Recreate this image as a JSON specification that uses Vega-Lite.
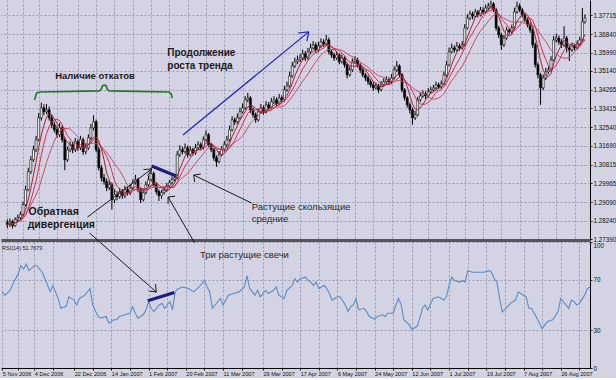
{
"$schema":"https://vega.github.io/schema/vega-lite/v6.json",
"padding":0,
"background":"#d3d3e3",
"spacing":2,
"bounds":"flush",
"config":{"font":"Liberation Sans","view":{"stroke":null},"axis":{"gridColor":"#9a9ab2","gridDash":[2,2],"gridWidth":1,"labelColor":"#111111","tickColor":"#111111","domainColor":"#111111","labelFont":"Liberation Sans","labelOverlap":false,"labelSeparation":0,"tickCount":100}},
"datasets":{
"bars":[
{"i":0,"o":1.2815,"h":1.2830,"l":1.2790,"c":1.2806},
{"i":1,"o":1.2806,"h":1.2834,"l":1.2795,"c":1.2820},
{"i":2,"o":1.2820,"h":1.2828,"l":1.2788,"c":1.2801},
{"i":3,"o":1.2801,"h":1.2840,"l":1.2796,"c":1.2829},
{"i":4,"o":1.2829,"h":1.2852,"l":1.2820,"c":1.2838},
{"i":5,"o":1.2838,"h":1.2866,"l":1.2830,"c":1.2852},
{"i":6,"o":1.2852,"h":1.2912,"l":1.2845,"c":1.2898},
{"i":7,"o":1.2898,"h":1.2985,"l":1.2890,"c":1.2967},
{"i":8,"o":1.2967,"h":1.3068,"l":1.2960,"c":1.3050},
{"i":9,"o":1.3050,"h":1.3122,"l":1.3040,"c":1.3105},
{"i":10,"o":1.3105,"h":1.3170,"l":1.3095,"c":1.3151},
{"i":11,"o":1.3151,"h":1.3215,"l":1.3140,"c":1.3197},
{"i":12,"o":1.3197,"h":1.3320,"l":1.3190,"c":1.3298},
{"i":13,"o":1.3298,"h":1.3368,"l":1.3285,"c":1.3344},
{"i":14,"o":1.3344,"h":1.3360,"l":1.3310,"c":1.3326},
{"i":15,"o":1.3326,"h":1.3362,"l":1.3315,"c":1.3335},
{"i":16,"o":1.3335,"h":1.3350,"l":1.3285,"c":1.3298},
{"i":17,"o":1.3298,"h":1.3310,"l":1.3250,"c":1.3266},
{"i":18,"o":1.3266,"h":1.3280,"l":1.3230,"c":1.3243},
{"i":19,"o":1.3243,"h":1.3262,"l":1.3205,"c":1.3220},
{"i":20,"o":1.3220,"h":1.3275,"l":1.3210,"c":1.3252},
{"i":21,"o":1.3252,"h":1.3265,"l":1.3185,"c":1.3197},
{"i":22,"o":1.3197,"h":1.3210,"l":1.3057,"c":1.3105},
{"i":23,"o":1.3105,"h":1.3165,"l":1.3095,"c":1.3151},
{"i":24,"o":1.3151,"h":1.3190,"l":1.3140,"c":1.3174},
{"i":25,"o":1.3174,"h":1.3185,"l":1.3135,"c":1.3151},
{"i":26,"o":1.3151,"h":1.3205,"l":1.3140,"c":1.3188},
{"i":27,"o":1.3188,"h":1.3200,"l":1.3145,"c":1.3160},
{"i":28,"o":1.3160,"h":1.3215,"l":1.3150,"c":1.3197},
{"i":29,"o":1.3197,"h":1.3208,"l":1.3128,"c":1.3142},
{"i":30,"o":1.3142,"h":1.3180,"l":1.3130,"c":1.3160},
{"i":31,"o":1.3160,"h":1.3222,"l":1.3150,"c":1.3206},
{"i":32,"o":1.3206,"h":1.3270,"l":1.3195,"c":1.3252},
{"i":33,"o":1.3252,"h":1.3310,"l":1.3240,"c":1.3280},
{"i":34,"o":1.3280,"h":1.3290,"l":1.3140,"c":1.3151},
{"i":35,"o":1.3151,"h":1.3165,"l":1.3055,"c":1.3068},
{"i":36,"o":1.3068,"h":1.3080,"l":1.3005,"c":1.3022},
{"i":37,"o":1.3022,"h":1.3040,"l":1.2990,"c":1.3004},
{"i":38,"o":1.3004,"h":1.3018,"l":1.2960,"c":1.2976},
{"i":39,"o":1.2976,"h":1.3010,"l":1.2965,"c":1.2990},
{"i":40,"o":1.2990,"h":1.3000,"l":1.2875,"c":1.2921},
{"i":41,"o":1.2921,"h":1.2965,"l":1.2905,"c":1.2944},
{"i":42,"o":1.2944,"h":1.2958,"l":1.2918,"c":1.2935},
{"i":43,"o":1.2935,"h":1.2975,"l":1.2925,"c":1.2958},
{"i":44,"o":1.2958,"h":1.2970,"l":1.2925,"c":1.2939},
{"i":45,"o":1.2939,"h":1.2985,"l":1.2928,"c":1.2967},
{"i":46,"o":1.2967,"h":1.2980,"l":1.2940,"c":1.2953},
{"i":47,"o":1.2953,"h":1.2992,"l":1.2942,"c":1.2976},
{"i":48,"o":1.2976,"h":1.3015,"l":1.2965,"c":1.2999},
{"i":49,"o":1.2999,"h":1.3035,"l":1.2990,"c":1.3013},
{"i":50,"o":1.3013,"h":1.3022,"l":1.2955,"c":1.2967},
{"i":51,"o":1.2967,"h":1.2975,"l":1.2905,"c":1.2921},
{"i":52,"o":1.2921,"h":1.2968,"l":1.2912,"c":1.2953},
{"i":53,"o":1.2953,"h":1.3005,"l":1.2945,"c":1.2990},
{"i":54,"o":1.2990,"h":1.3030,"l":1.2980,"c":1.3013},
{"i":55,"o":1.3013,"h":1.3068,"l":1.3005,"c":1.3041},
{"i":56,"o":1.3041,"h":1.3050,"l":1.2980,"c":1.2990},
{"i":57,"o":1.2990,"h":1.3000,"l":1.2945,"c":1.2958},
{"i":58,"o":1.2958,"h":1.2968,"l":1.2915,"c":1.2939},
{"i":59,"o":1.2939,"h":1.2965,"l":1.2925,"c":1.2953},
{"i":60,"o":1.2953,"h":1.2980,"l":1.2945,"c":1.2967},
{"i":61,"o":1.2967,"h":1.2998,"l":1.2958,"c":1.2985},
{"i":62,"o":1.2985,"h":1.3012,"l":1.2975,"c":1.2999},
{"i":63,"o":1.2999,"h":1.3028,"l":1.2990,"c":1.3013},
{"i":64,"o":1.3013,"h":1.3040,"l":1.3005,"c":1.3022},
{"i":65,"o":1.3022,"h":1.3145,"l":1.3015,"c":1.3128},
{"i":66,"o":1.3128,"h":1.3172,"l":1.3118,"c":1.3151},
{"i":67,"o":1.3151,"h":1.3165,"l":1.3130,"c":1.3142},
{"i":68,"o":1.3142,"h":1.3180,"l":1.3132,"c":1.3160},
{"i":69,"o":1.3160,"h":1.3170,"l":1.3115,"c":1.3128},
{"i":70,"o":1.3128,"h":1.3168,"l":1.3120,"c":1.3151},
{"i":71,"o":1.3151,"h":1.3160,"l":1.3125,"c":1.3137},
{"i":72,"o":1.3137,"h":1.3178,"l":1.3128,"c":1.3160},
{"i":73,"o":1.3160,"h":1.3190,"l":1.3150,"c":1.3174},
{"i":74,"o":1.3174,"h":1.3185,"l":1.3148,"c":1.3160},
{"i":75,"o":1.3160,"h":1.3212,"l":1.3152,"c":1.3197},
{"i":76,"o":1.3197,"h":1.3240,"l":1.3188,"c":1.3220},
{"i":77,"o":1.3220,"h":1.3228,"l":1.3165,"c":1.3174},
{"i":78,"o":1.3174,"h":1.3182,"l":1.3140,"c":1.3151},
{"i":79,"o":1.3151,"h":1.3160,"l":1.3100,"c":1.3114},
{"i":80,"o":1.3114,"h":1.3125,"l":1.3072,"c":1.3096},
{"i":81,"o":1.3096,"h":1.3145,"l":1.3088,"c":1.3128},
{"i":82,"o":1.3128,"h":1.3168,"l":1.3120,"c":1.3151},
{"i":83,"o":1.3151,"h":1.3190,"l":1.3142,"c":1.3174},
{"i":84,"o":1.3174,"h":1.3215,"l":1.3165,"c":1.3197},
{"i":85,"o":1.3197,"h":1.3262,"l":1.3190,"c":1.3243},
{"i":86,"o":1.3243,"h":1.3305,"l":1.3235,"c":1.3289},
{"i":87,"o":1.3289,"h":1.3300,"l":1.3265,"c":1.3280},
{"i":88,"o":1.3280,"h":1.3318,"l":1.3270,"c":1.3298},
{"i":89,"o":1.3298,"h":1.3345,"l":1.3290,"c":1.3326},
{"i":90,"o":1.3326,"h":1.3365,"l":1.3318,"c":1.3344},
{"i":91,"o":1.3344,"h":1.3398,"l":1.3335,"c":1.3381},
{"i":92,"o":1.3381,"h":1.3413,"l":1.3370,"c":1.3390},
{"i":93,"o":1.3390,"h":1.3398,"l":1.3320,"c":1.3335},
{"i":94,"o":1.3335,"h":1.3345,"l":1.3298,"c":1.3312},
{"i":95,"o":1.3312,"h":1.3322,"l":1.3275,"c":1.3289},
{"i":96,"o":1.3289,"h":1.3340,"l":1.3280,"c":1.3326},
{"i":97,"o":1.3326,"h":1.3362,"l":1.3318,"c":1.3344},
{"i":98,"o":1.3344,"h":1.3355,"l":1.3312,"c":1.3326},
{"i":99,"o":1.3326,"h":1.3375,"l":1.3318,"c":1.3358},
{"i":100,"o":1.3358,"h":1.3370,"l":1.3332,"c":1.3344},
{"i":101,"o":1.3344,"h":1.3390,"l":1.3336,"c":1.3372},
{"i":102,"o":1.3372,"h":1.3398,"l":1.3362,"c":1.3381},
{"i":103,"o":1.3381,"h":1.3392,"l":1.3350,"c":1.3363},
{"i":104,"o":1.3363,"h":1.3408,"l":1.3355,"c":1.3390},
{"i":105,"o":1.3390,"h":1.3402,"l":1.3368,"c":1.3381},
{"i":106,"o":1.3381,"h":1.3445,"l":1.3372,"c":1.3427},
{"i":107,"o":1.3427,"h":1.3465,"l":1.3418,"c":1.3445},
{"i":108,"o":1.3445,"h":1.3510,"l":1.3438,"c":1.3491},
{"i":109,"o":1.3491,"h":1.3555,"l":1.3482,"c":1.3537},
{"i":110,"o":1.3537,"h":1.3575,"l":1.3528,"c":1.3556},
{"i":111,"o":1.3556,"h":1.3585,"l":1.3545,"c":1.3565},
{"i":112,"o":1.3565,"h":1.3592,"l":1.3555,"c":1.3574},
{"i":113,"o":1.3574,"h":1.3612,"l":1.3565,"c":1.3593},
{"i":114,"o":1.3593,"h":1.3605,"l":1.3560,"c":1.3574},
{"i":115,"o":1.3574,"h":1.3620,"l":1.3565,"c":1.3602},
{"i":116,"o":1.3602,"h":1.3640,"l":1.3592,"c":1.3620},
{"i":117,"o":1.3620,"h":1.3652,"l":1.3612,"c":1.3634},
{"i":118,"o":1.3634,"h":1.3645,"l":1.3598,"c":1.3611},
{"i":119,"o":1.3611,"h":1.3648,"l":1.3600,"c":1.3629},
{"i":120,"o":1.3629,"h":1.3665,"l":1.3620,"c":1.3648},
{"i":121,"o":1.3648,"h":1.3660,"l":1.3625,"c":1.3639},
{"i":122,"o":1.3639,"h":1.3680,"l":1.3630,"c":1.3657},
{"i":123,"o":1.3657,"h":1.3668,"l":1.3590,"c":1.3602},
{"i":124,"o":1.3602,"h":1.3612,"l":1.3575,"c":1.3588},
{"i":125,"o":1.3588,"h":1.3598,"l":1.3560,"c":1.3574},
{"i":126,"o":1.3574,"h":1.3605,"l":1.3565,"c":1.3588},
{"i":127,"o":1.3588,"h":1.3596,"l":1.3545,"c":1.3556},
{"i":128,"o":1.3556,"h":1.3590,"l":1.3548,"c":1.3574},
{"i":129,"o":1.3574,"h":1.3582,"l":1.3530,"c":1.3542},
{"i":130,"o":1.3542,"h":1.3550,"l":1.3480,"c":1.3496},
{"i":131,"o":1.3496,"h":1.3535,"l":1.3488,"c":1.3519},
{"i":132,"o":1.3519,"h":1.3572,"l":1.3510,"c":1.3556},
{"i":133,"o":1.3556,"h":1.3582,"l":1.3548,"c":1.3565},
{"i":134,"o":1.3565,"h":1.3575,"l":1.3530,"c":1.3542},
{"i":135,"o":1.3542,"h":1.3550,"l":1.3505,"c":1.3519},
{"i":136,"o":1.3519,"h":1.3528,"l":1.3485,"c":1.3496},
{"i":137,"o":1.3496,"h":1.3505,"l":1.3468,"c":1.3482},
{"i":138,"o":1.3482,"h":1.3492,"l":1.3450,"c":1.3464},
{"i":139,"o":1.3464,"h":1.3475,"l":1.3438,"c":1.3450},
{"i":140,"o":1.3450,"h":1.3462,"l":1.3422,"c":1.3436},
{"i":141,"o":1.3436,"h":1.3460,"l":1.3428,"c":1.3445},
{"i":142,"o":1.3445,"h":1.3455,"l":1.3412,"c":1.3427},
{"i":143,"o":1.3427,"h":1.3468,"l":1.3420,"c":1.3450},
{"i":144,"o":1.3450,"h":1.3480,"l":1.3442,"c":1.3464},
{"i":145,"o":1.3464,"h":1.3490,"l":1.3455,"c":1.3473},
{"i":146,"o":1.3473,"h":1.3485,"l":1.3450,"c":1.3464},
{"i":147,"o":1.3464,"h":1.3500,"l":1.3455,"c":1.3482},
{"i":148,"o":1.3482,"h":1.3535,"l":1.3475,"c":1.3519},
{"i":149,"o":1.3519,"h":1.3560,"l":1.3510,"c":1.3537},
{"i":150,"o":1.3537,"h":1.3545,"l":1.3485,"c":1.3496},
{"i":151,"o":1.3496,"h":1.3505,"l":1.3415,"c":1.3427},
{"i":152,"o":1.3427,"h":1.3435,"l":1.3378,"c":1.3390},
{"i":153,"o":1.3390,"h":1.3398,"l":1.3345,"c":1.3358},
{"i":154,"o":1.3358,"h":1.3368,"l":1.3318,"c":1.3335},
{"i":155,"o":1.3335,"h":1.3345,"l":1.3266,"c":1.3298},
{"i":156,"o":1.3298,"h":1.3330,"l":1.3288,"c":1.3312},
{"i":157,"o":1.3312,"h":1.3395,"l":1.3305,"c":1.3381},
{"i":158,"o":1.3381,"h":1.3415,"l":1.3372,"c":1.3399},
{"i":159,"o":1.3399,"h":1.3425,"l":1.3390,"c":1.3409},
{"i":160,"o":1.3409,"h":1.3420,"l":1.3385,"c":1.3399},
{"i":161,"o":1.3399,"h":1.3435,"l":1.3390,"c":1.3418},
{"i":162,"o":1.3418,"h":1.3442,"l":1.3410,"c":1.3427},
{"i":163,"o":1.3427,"h":1.3450,"l":1.3420,"c":1.3436},
{"i":164,"o":1.3436,"h":1.3465,"l":1.3428,"c":1.3450},
{"i":165,"o":1.3450,"h":1.3460,"l":1.3430,"c":1.3441},
{"i":166,"o":1.3441,"h":1.3470,"l":1.3432,"c":1.3455},
{"i":167,"o":1.3455,"h":1.3512,"l":1.3448,"c":1.3496},
{"i":168,"o":1.3496,"h":1.3560,"l":1.3488,"c":1.3542},
{"i":169,"o":1.3542,"h":1.3622,"l":1.3535,"c":1.3602},
{"i":170,"o":1.3602,"h":1.3640,"l":1.3595,"c":1.3620},
{"i":171,"o":1.3620,"h":1.3632,"l":1.3598,"c":1.3611},
{"i":172,"o":1.3611,"h":1.3648,"l":1.3602,"c":1.3629},
{"i":173,"o":1.3629,"h":1.3640,"l":1.3608,"c":1.3620},
{"i":174,"o":1.3620,"h":1.3652,"l":1.3612,"c":1.3634},
{"i":175,"o":1.3634,"h":1.3730,"l":1.3628,"c":1.3712},
{"i":176,"o":1.3712,"h":1.3775,"l":1.3705,"c":1.3758},
{"i":177,"o":1.3758,"h":1.3792,"l":1.3748,"c":1.3777},
{"i":178,"o":1.3777,"h":1.3788,"l":1.3752,"c":1.3767},
{"i":179,"o":1.3767,"h":1.3800,"l":1.3758,"c":1.3786},
{"i":180,"o":1.3786,"h":1.3795,"l":1.3760,"c":1.3772},
{"i":181,"o":1.3772,"h":1.3810,"l":1.3765,"c":1.3795},
{"i":182,"o":1.3795,"h":1.3808,"l":1.3775,"c":1.3786},
{"i":183,"o":1.3786,"h":1.3820,"l":1.3778,"c":1.3804},
{"i":184,"o":1.3804,"h":1.3828,"l":1.3795,"c":1.3813},
{"i":185,"o":1.3813,"h":1.3838,"l":1.3805,"c":1.3823},
{"i":186,"o":1.3823,"h":1.3832,"l":1.3785,"c":1.3795},
{"i":187,"o":1.3795,"h":1.3805,"l":1.3700,"c":1.3712},
{"i":188,"o":1.3712,"h":1.3722,"l":1.3665,"c":1.3680},
{"i":189,"o":1.3680,"h":1.3690,"l":1.3611,"c":1.3634},
{"i":190,"o":1.3634,"h":1.3680,"l":1.3625,"c":1.3666},
{"i":191,"o":1.3666,"h":1.3718,"l":1.3658,"c":1.3703},
{"i":192,"o":1.3703,"h":1.3712,"l":1.3682,"c":1.3694},
{"i":193,"o":1.3694,"h":1.3728,"l":1.3685,"c":1.3712},
{"i":194,"o":1.3712,"h":1.3805,"l":1.3705,"c":1.3786},
{"i":195,"o":1.3786,"h":1.3834,"l":1.3778,"c":1.3813},
{"i":196,"o":1.3813,"h":1.3825,"l":1.3785,"c":1.3795},
{"i":197,"o":1.3795,"h":1.3805,"l":1.3760,"c":1.3772},
{"i":198,"o":1.3772,"h":1.3782,"l":1.3738,"c":1.3749},
{"i":199,"o":1.3749,"h":1.3760,"l":1.3715,"c":1.3726},
{"i":200,"o":1.3726,"h":1.3738,"l":1.3690,"c":1.3703},
{"i":201,"o":1.3703,"h":1.3712,"l":1.3620,"c":1.3634},
{"i":202,"o":1.3634,"h":1.3645,"l":1.3530,"c":1.3542},
{"i":203,"o":1.3542,"h":1.3552,"l":1.3480,"c":1.3496},
{"i":204,"o":1.3496,"h":1.3505,"l":1.3358,"c":1.3436},
{"i":205,"o":1.3436,"h":1.3498,"l":1.3425,"c":1.3482},
{"i":206,"o":1.3482,"h":1.3528,"l":1.3472,"c":1.3510},
{"i":207,"o":1.3510,"h":1.3535,"l":1.3500,"c":1.3519},
{"i":208,"o":1.3519,"h":1.3582,"l":1.3510,"c":1.3565},
{"i":209,"o":1.3565,"h":1.3675,"l":1.3558,"c":1.3657},
{"i":210,"o":1.3657,"h":1.3685,"l":1.3645,"c":1.3666},
{"i":211,"o":1.3666,"h":1.3678,"l":1.3635,"c":1.3648},
{"i":212,"o":1.3648,"h":1.3660,"l":1.3620,"c":1.3634},
{"i":213,"o":1.3634,"h":1.3720,"l":1.3625,"c":1.3666},
{"i":214,"o":1.3666,"h":1.3675,"l":1.3600,"c":1.3620},
{"i":215,"o":1.3620,"h":1.3630,"l":1.3560,"c":1.3611},
{"i":216,"o":1.3611,"h":1.3645,"l":1.3602,"c":1.3629},
{"i":217,"o":1.3629,"h":1.3640,"l":1.3608,"c":1.3620},
{"i":218,"o":1.3620,"h":1.3655,"l":1.3612,"c":1.3639},
{"i":219,"o":1.3639,"h":1.3672,"l":1.3630,"c":1.3657},
{"i":220,"o":1.3657,"h":1.3804,"l":1.3650,"c":1.3740},
{"i":221,"o":1.3740,"h":1.3775,"l":1.3732,"c":1.3758}
],
"rsi":[
{"i":0,"v":60.4},{"i":1,"v":57.8},{"i":3,"v":61.7},{"i":4,"v":66.9},{"i":6,"v":74.7},{"i":7,"v":81.2},{"i":8,"v":78.6},{"i":9,"v":82.5},{"i":10,"v":77.3},{"i":12,"v":81.2},{"i":13,"v":81.2},{"i":15,"v":76.0},{"i":16,"v":70.8},{"i":18,"v":60.6},{"i":19,"v":65.6},{"i":20,"v":60.4},{"i":21,"v":55.2},{"i":22,"v":47.4},{"i":24,"v":48.9},{"i":25,"v":56.5},{"i":27,"v":53.9},{"i":28,"v":50.0},{"i":29,"v":55.2},{"i":31,"v":57.8},{"i":32,"v":60.4},{"i":33,"v":63.0},{"i":34,"v":50.0},{"i":36,"v":40.9},{"i":37,"v":39.6},{"i":39,"v":40.9},{"i":40,"v":35.7},{"i":42,"v":38.3},{"i":43,"v":38.3},{"i":44,"v":40.9},{"i":46,"v":42.2},{"i":48,"v":43.5},{"i":49,"v":48.7},{"i":50,"v":43.5},{"i":51,"v":39.6},{"i":53,"v":42.2},{"i":54,"v":46.1},{"i":55,"v":52.6},{"i":56,"v":47.4},{"i":57,"v":44.8},{"i":59,"v":50.0},{"i":60,"v":51.3},{"i":61,"v":47.4},{"i":63,"v":52.6},{"i":64,"v":46.1},{"i":65,"v":60.4},{"i":66,"v":63.0},{"i":68,"v":64.3},{"i":70,"v":63.0},{"i":72,"v":60.4},{"i":74,"v":64.3},{"i":76,"v":69.5},{"i":77,"v":64.3},{"i":78,"v":60.4},{"i":79,"v":47.4},{"i":81,"v":52.6},{"i":82,"v":55.2},{"i":83,"v":50.0},{"i":85,"v":57.8},{"i":87,"v":59.1},{"i":89,"v":60.4},{"i":91,"v":64.3},{"i":92,"v":73.4},{"i":93,"v":63.0},{"i":95,"v":57.8},{"i":96,"v":61.7},{"i":97,"v":56.5},{"i":99,"v":61.7},{"i":100,"v":59.1},{"i":102,"v":61.7},{"i":103,"v":64.3},{"i":104,"v":57.8},{"i":106,"v":55.2},{"i":107,"v":61.7},{"i":109,"v":65.6},{"i":110,"v":70.8},{"i":111,"v":68.2},{"i":112,"v":70.8},{"i":114,"v":72.1},{"i":115,"v":69.5},{"i":116,"v":68.2},{"i":117,"v":65.6},{"i":118,"v":68.2},{"i":119,"v":63.0},{"i":121,"v":65.6},{"i":122,"v":63.0},{"i":123,"v":59.1},{"i":124,"v":53.9},{"i":126,"v":56.5},{"i":127,"v":56.5},{"i":129,"v":50.0},{"i":130,"v":44.8},{"i":131,"v":48.7},{"i":132,"v":50.0},{"i":133,"v":55.2},{"i":134,"v":46.1},{"i":136,"v":47.4},{"i":137,"v":44.8},{"i":138,"v":40.9},{"i":140,"v":38.8},{"i":141,"v":40.9},{"i":143,"v":42.2},{"i":144,"v":40.9},{"i":145,"v":43.5},{"i":147,"v":43.5},{"i":148,"v":50.0},{"i":149,"v":55.2},{"i":150,"v":50.0},{"i":151,"v":38.3},{"i":153,"v":34.4},{"i":154,"v":30.5},{"i":156,"v":33.1},{"i":157,"v":39.6},{"i":158,"v":47.4},{"i":159,"v":50.0},{"i":160,"v":46.1},{"i":162,"v":55.2},{"i":164,"v":56.5},{"i":166,"v":53.9},{"i":167,"v":56.5},{"i":168,"v":65.6},{"i":169,"v":72.1},{"i":170,"v":69.5},{"i":172,"v":68.2},{"i":173,"v":69.5},{"i":174,"v":68.2},{"i":175,"v":77.3},{"i":177,"v":76.0},{"i":179,"v":76.0},{"i":181,"v":76.0},{"i":183,"v":77.3},{"i":184,"v":76.0},{"i":185,"v":70.8},{"i":186,"v":68.2},{"i":187,"v":55.2},{"i":188,"v":44.5},{"i":190,"v":48.7},{"i":191,"v":51.3},{"i":193,"v":53.9},{"i":194,"v":60.4},{"i":196,"v":57.8},{"i":197,"v":56.5},{"i":198,"v":47.4},{"i":199,"v":47.4},{"i":201,"v":39.6},{"i":203,"v":31.2},{"i":205,"v":37.0},{"i":207,"v":38.3},{"i":209,"v":44.8},{"i":210,"v":55.2},{"i":211,"v":52.6},{"i":213,"v":47.4},{"i":214,"v":53.9},{"i":215,"v":52.6},{"i":216,"v":50.0},{"i":217,"v":51.3},{"i":219,"v":57.8},{"i":220,"v":63.0},{"i":221,"v":64.0}
]
},
"vconcat":[
{
"width":589,"height":240,
"layer":[
{"data":{"name":"bars"},"mark":{"type":"rule","color":"#000000","strokeWidth":1},
 "encoding":{
  "x":{"field":"i","type":"quantitative","scale":{"domain":[-0.5,221],"nice":false,"zero":false},
   "axis":{"orient":"bottom","values":[0,6,12,19,27,34,41,48,55,62,69,76,83,90,98,105,112,119,126,133,140,147,154,161,168,175,182,189,196,203,210,217],"tickCount":100,"labels":false,"ticks":false,"domainColor":"#555555","domainWidth":3,"grid":true,"title":null}},
  "y":{"field":"l","type":"quantitative","scale":{"domain":[1.2735,1.3841],"nice":false,"zero":false},
   "axis":{"orient":"right","values":[1.2739,1.2824,1.2909,1.29965,1.30815,1.3169,1.3254,1.33415,1.34265,1.3514,1.3599,1.3684,1.37715],"tickCount":100,"format":".5f","labelFontSize":6.3,"labelPadding":1,"tickSize":2,"grid":true,"title":null,"labelOverlap":false,"labelFlush":false,"labelBound":false,"domainColor":"#000000"}},
  "y2":{"field":"h"}}},
{"data":{"name":"bars"},"mark":{"type":"bar","size":2,"stroke":"#000000","strokeWidth":0.6},
 "encoding":{"x":{"field":"i","type":"quantitative"},"y":{"field":"o","type":"quantitative"},"y2":{"field":"c"},
  "fill":{"condition":{"test":"datum.c > datum.o","value":"#ffffff"},"value":"#000000"}}},
{"data":{"name":"bars"},"transform":[{"window":[{"op":"mean","field":"c","as":"m"}],"frame":[-12,0],"sort":[{"field":"i"}]}],
 "mark":{"type":"line","color":"#c4506a","strokeWidth":1},"encoding":{"x":{"field":"i","type":"quantitative"},"y":{"field":"m","type":"quantitative"}}},
{"data":{"name":"bars"},"transform":[{"window":[{"op":"mean","field":"c","as":"m"}],"frame":[-7,0],"sort":[{"field":"i"}]}],
 "mark":{"type":"line","color":"#d03050","strokeWidth":1},"encoding":{"x":{"field":"i","type":"quantitative"},"y":{"field":"m","type":"quantitative"}}},
{"data":{"name":"bars"},"transform":[{"window":[{"op":"mean","field":"c","as":"m"}],"frame":[-4,0],"sort":[{"field":"i"}]}],
 "mark":{"type":"line","color":"#b01c36","strokeWidth":1},"encoding":{"x":{"field":"i","type":"quantitative"},"y":{"field":"m","type":"quantitative"}}},
{"data":{"values":[
 {"n":1,"x":10.4,"y":1.3380},{"n":2,"x":11.2,"y":1.3412},{"n":3,"x":12.3,"y":1.3417},{"n":4,"x":35.2,"y":1.3422},{"n":5,"x":36.0,"y":1.3431},{"n":6,"x":36.4,"y":1.3445},{"n":7,"x":37.1,"y":1.3449},{"n":8,"x":37.9,"y":1.3445},{"n":9,"x":38.2,"y":1.3431},{"n":10,"x":39.0,"y":1.3422},{"n":11,"x":61.9,"y":1.3417},{"n":12,"x":62.7,"y":1.3408},{"n":13,"x":63.1,"y":1.3389}]},
 "mark":{"type":"line","color":"#1f7a1f","strokeWidth":1.6},
 "encoding":{"x":{"field":"x","type":"quantitative"},"y":{"field":"y","type":"quantitative"},"order":{"field":"n"}}},
{"data":{"values":[
 {"x":67.2,"y":1.3219,"x2":115.3,"y2":1.3694},{"x":115.3,"y":1.3694,"x2":111.2,"y2":1.3689},{"x":115.3,"y":1.3694,"x2":114.6,"y2":1.3652}]},
 "mark":{"type":"rule","color":"#2222c8","strokeWidth":1.2},
 "encoding":{"x":{"field":"x","type":"quantitative"},"y":{"field":"y","type":"quantitative"},"x2":{"field":"x2"},"y2":{"field":"y2"}}},
{"data":{"values":[{"x":55.2,"y":1.3076,"x2":64.6,"y2":1.3030}]},
 "mark":{"type":"rule","color":"#1c1c7c","strokeWidth":3},
 "encoding":{"x":{"field":"x","type":"quantitative"},"y":{"field":"y","type":"quantitative"},"x2":{"field":"x2"},"y2":{"field":"y2"}}},
{"data":{"values":[
 {"x":30.7,"y":1.2841,"x2":55.2,"y2":1.3062},{"x":55.2,"y":1.3062,"x2":52.1,"y2":1.3060},{"x":55.2,"y":1.3062,"x2":53.7,"y2":1.3030},
 {"x":31.5,"y":1.2767,"x2":57.0,"y2":1.2495},{"x":57.0,"y":1.2495,"x2":56.7,"y2":1.2532},{"x":57.0,"y":1.2495,"x2":54.0,"y2":1.2500},
 {"x":71.7,"y":1.2721,"x2":61.5,"y2":1.2933},{"x":61.5,"y":1.2933,"x2":64.2,"y2":1.2937},{"x":61.5,"y":1.2933,"x2":61.5,"y2":1.2901},
 {"x":93.5,"y":1.2905,"x2":71.3,"y2":1.3034},{"x":71.3,"y":1.3034,"x2":74.0,"y2":1.3039},{"x":71.3,"y":1.3034,"x2":71.7,"y2":1.3002}]},
 "mark":{"type":"rule","color":"#1a1a1a","strokeWidth":1},
 "encoding":{"x":{"field":"x","type":"quantitative"},"y":{"field":"y","type":"quantitative"},"x2":{"field":"x2"},"y2":{"field":"y2"}}},
{"data":{"values":[{"x":18.3,"y":1.3491,"t":"Наличие откатов"}]},
 "mark":{"type":"text","align":"left","baseline":"middle","font":"Liberation Sans","fontWeight":"bold","fontSize":9.5,"color":"#1a1a1a"},
 "encoding":{"x":{"field":"x","type":"quantitative"},"y":{"field":"y","type":"quantitative"},"text":{"field":"t"}}},
{"data":{"values":[{"x":61.2,"y":1.3597,"t":"Продолжение"},{"x":61.2,"y":1.3537,"t":"роста тренда"}]},
 "mark":{"type":"text","align":"left","baseline":"middle","font":"Liberation Sans","fontWeight":"bold","fontSize":10,"color":"#1a1a1a"},
 "encoding":{"x":{"field":"x","type":"quantitative"},"y":{"field":"y","type":"quantitative"},"text":{"field":"t"}}},
{"data":{"values":[{"x":8.1,"y":1.2864,"t":"Обратная"},{"x":7.8,"y":1.2804,"t":"дивергенция"}]},
 "mark":{"type":"text","align":"left","baseline":"middle","font":"Liberation Sans","fontWeight":"bold","fontSize":10.5,"color":"#1a1a1a"},
 "encoding":{"x":{"field":"x","type":"quantitative"},"y":{"field":"y","type":"quantitative"},"text":{"field":"t"}}},
{"data":{"values":[{"x":93.5,"y":1.2887,"t":"Растущие скользящие"},{"x":93.5,"y":1.2831,"t":"средние"}]},
 "mark":{"type":"text","align":"left","baseline":"middle","font":"Liberation Sans","fontSize":9.5,"color":"#2a2a2a"},
 "encoding":{"x":{"field":"x","type":"quantitative"},"y":{"field":"y","type":"quantitative"},"text":{"field":"t"}}}
]
},
{
"width":589,"height":126,
"layer":[
{"data":{"name":"rsi"},"mark":{"type":"line","color":"#5a8dc6","strokeWidth":1.1},
 "encoding":{
  "x":{"field":"i","type":"quantitative","scale":{"domain":[-0.5,221],"nice":false,"zero":false},
   "axis":{"orient":"bottom","values":[0,6,12,19,27,34,41,48,55,62,69,76,83,90,98,105,112,119,126,133,140,147,154,161,168,175,182,189,196,203,210,217],"tickCount":100,
    "labelExpr":"indexof([0,12,27,41,55,69,83,98,112,126,140,154,168,182,196,210], datum.value) >= 0 ? ['5 Nov 2006','4 Dec 2006','22 Dec 2006','14 Jan 2007','1 Feb 2007','20 Feb 2007','11 Mar 2007','29 Mar 2007','17 Apr 2007','6 May 2007','24 May 2007','12 Jun 2007','1 Jul 2007','19 Jul 2007','7 Aug 2007','26 Aug 2007'][indexof([0,12,27,41,55,69,83,98,112,126,140,154,168,182,196,210], datum.value)] : ''",
    "labelAlign":"left","labelFontSize":5.6,"labelPadding":1.5,"tickSize":2,"labelOverlap":false,"labelFlush":false,"labelBound":false,"grid":true,"title":null,"domainColor":"#000000"}},
  "y":{"field":"v","type":"quantitative","scale":{"domain":[0,100],"nice":false},
   "axis":{"orient":"right","values":[0,30,70,100],"tickCount":100,"labelFontSize":6.3,"labelPadding":1,"tickSize":2,"grid":true,"title":null,"labelOverlap":false,"labelFlush":false,"labelBound":false,"domainColor":"#000000","labelBaseline":{"condition":{"test":"datum.value == 100","value":"top"},"value":"middle"}}}}},
{"data":{"values":[{"x":54.7,"y":53.4,"x2":64.7,"y2":59.9}]},
 "mark":{"type":"rule","color":"#1c1c7c","strokeWidth":3},
 "encoding":{"x":{"field":"x","type":"quantitative"},"y":{"field":"y","type":"quantitative"},"x2":{"field":"x2"},"y2":{"field":"y2"}}},
{"data":{"values":[{"x":74.3,"y":89.7,"t":"Три растущие свечи"}]},
 "mark":{"type":"text","align":"left","baseline":"middle","font":"Liberation Sans","fontSize":9.5,"color":"#2a2a2a"},
 "encoding":{"x":{"field":"x","type":"quantitative"},"y":{"field":"y","type":"quantitative"},"text":{"field":"t"}}},
{"data":{"values":[{"x":-0.1,"y":95.2,"t":"RSI(14) 51.7679"}]},
 "mark":{"type":"text","align":"left","baseline":"middle","font":"Liberation Sans","fontSize":5.5,"color":"#222222"},
 "encoding":{"x":{"field":"x","type":"quantitative"},"y":{"field":"y","type":"quantitative"},"text":{"field":"t"}}}
]
}
]
}
